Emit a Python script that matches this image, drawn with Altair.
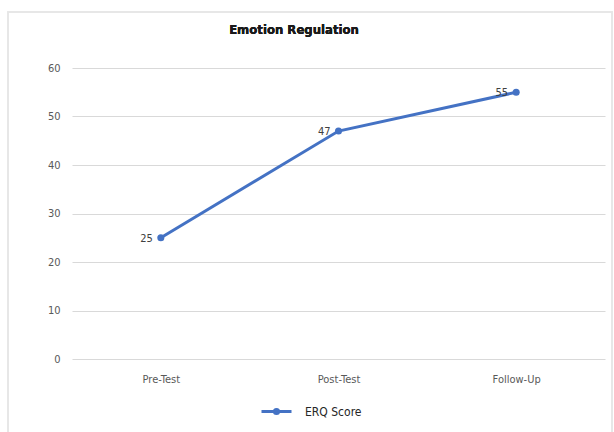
import altair as alt
import pandas as pd

phases = ["Pre-Test", "Post-Test", "Follow-Up"]
scores = [25, 47, 55]
series = ["ERQ Score", "ERQ Score", "ERQ Score"]
y_ticks = [0, 10, 20, 30, 40, 50, 60]

df = pd.DataFrame({"Phase": phases, "Score": scores, "Series": series})

FONT = "DejaVu Sans Condensed"
BLUE = "#4472C4"

frame = alt.Chart(df).mark_rect(fill=None, stroke="#e6e6e6", strokeWidth=1.5).encode(
    x=alt.value(-64), x2=alt.value(540), y=alt.value(-56), y2=alt.value(400)
)

title = alt.Chart(df).mark_text(
    text="Emotion Regulation", fontSize=13, font=FONT, fontWeight="bold", color="#1a1a1a",
    align="center", baseline="middle"
).encode(x=alt.value(222), y=alt.value(-38))

base = alt.Chart(df).encode(
    x=alt.X("Phase:N", sort=phases, title=None,
            axis=alt.Axis(labelAngle=0, ticks=False, domain=False, labelPadding=14,
                          labelFontSize=11, labelColor="#595959", labelFont=FONT),
            scale=alt.Scale(paddingInner=0, paddingOuter=0)),
    y=alt.Y("Score:Q", title=None, scale=alt.Scale(domain=[0, 60]),
            axis=alt.Axis(values=y_ticks, ticks=False, domain=False, labelPadding=12,
                          labelFontSize=11, labelColor="#595959", labelFont=FONT,
                          gridColor="#d9d9d9", gridWidth=1)),
)

line = base.mark_line(strokeWidth=3, color=BLUE,
                      point=alt.OverlayMarkDef(filled=True, size=50, color=BLUE)).encode(
    color=alt.Color("Series:N", scale=alt.Scale(range=[BLUE]),
                    legend=alt.Legend(title=None, orient="none", legendX=188, legendY=327,
                                      symbolType="M-1,0L1,0M-0.14,0a0.14,0.14 0 1,0 0.28,0a0.14,0.14 0 1,0 -0.28,0",
                                      symbolFillColor=BLUE, symbolStrokeColor=BLUE,
                                      symbolStrokeWidth=3, symbolSize=900,
                                      labelFontSize=12, labelColor="#262626", labelFont=FONT,
                                      labelOffset=12))
)

labels = base.mark_text(align="right", dx=-8, dy=1, fontSize=11, color="#404040", font=FONT).encode(
    text="Score:Q"
)

chart = alt.layer(frame, title, line, labels).properties(
    width=533, height=291,
    autosize=alt.AutoSizeParams(type="none"),
    padding={"left": 72, "top": 68, "right": 9, "bottom": 73},
).configure(background="white").configure_view(strokeWidth=0, stroke="transparent")

chart.save("out.html", embed_options={"renderer": "svg", "actions": False})
